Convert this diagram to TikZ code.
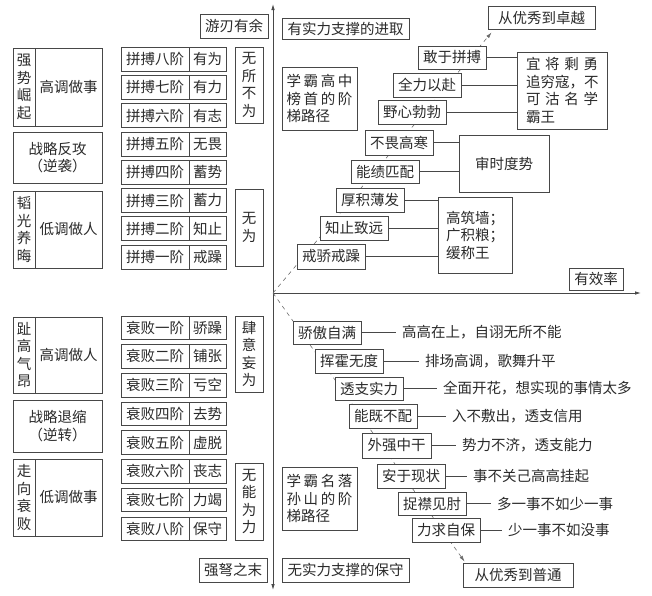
\documentclass[tikz,border=0pt]{standalone}
\usepackage{fontspec}
\setmainfont{Noto Sans CJK SC}
\usetikzlibrary{arrows.meta,calc}
\definecolor{ln}{HTML}{474747}
\definecolor{tx}{HTML}{2A2A2A}
\newcommand\Bx[6]{\node[bx, minimum width={#4-#2}, minimum height={#5-#3}] (#1) at ({(#2+#4)/2},{(#3+#5)/2}) {#6};}
\newcommand\Jst[2]{\makebox[#1][s]{#2}}
\begin{document}
\begin{tikzpicture}[x=1pt,y=-1pt,
  every node/.style={font=\fontsize{14.5}{17.5}\selectfont, text=tx},
  bx/.style={draw=ln, fill=white, line width=0.8pt, inner sep=0pt, align=center},
  txt/.style={anchor=west, inner xsep=6pt, inner ysep=0pt},
  conn/.style={draw=ln, line width=0.7pt},
  dsh/.style={draw=ln!80, line width=0.6pt, dash pattern=on 4pt off 4pt},
  axis/.style={draw=ln, line width=0.8pt},
  tip/.style={-{Latex[length=6pt,width=3.5pt]}}
]
\useasboundingbox (0,0) rectangle (652,595);

% axes
\coordinate (O) at (273,293);
\coordinate (Yt) at (273,4);
\coordinate (Yb) at (273,590);
\coordinate (Xr) at (641,293);
\draw[axis,tip] (O) -- (Yt);
\draw[axis,tip] (O) -- (Yb);
\draw[axis,tip] (O) -- (Xr);

% target boxes (needed for dashed connectors)
\Bx{zy}{488}{6}{595}{29}{从优秀到卓越}
\Bx{zp}{463}{563}{573}{587}{从优秀到普通}
\draw[dsh,tip] (O) -- ($(zy.south west)+(4,3)$);
\draw[dsh,tip] (O) -- ($(zp.north west)+(2,-1)$);

% ---------- left column, upper ----------
\Bx{yr}{200}{14}{268}{38}{游刃有余}
\Bx{qsA}{13}{48}{35}{126}{强\\势\\崛\\起}
\Bx{qsB}{35}{48}{102}{126}{高调做事}
\Bx{zlfg}{13}{132}{102}{183}{战略反攻\\（逆袭）}
\Bx{tgA}{13}{191}{35}{268}{韬\\光\\养\\晦}
\Bx{tgB}{35}{191}{102}{268}{低调做人}
\Bx{wsbw}{235}{47}{263}{123}{无\\所\\不\\为}
\Bx{ww}{235}{189}{263}{266}{无\\为}

\foreach \i/\a/\b in {0/八/有为,1/七/有力,2/六/有志,3/五/无畏,4/四/蓄势,5/三/蓄力,6/二/知止,7/一/戒躁}{
  \pgfmathsetmacro\ya{47+28.3*\i}
  \pgfmathsetmacro\yb{\ya+24}
  \Bx{pa\i}{121}{\ya}{189}{\yb}{拼搏\a 阶}
  \Bx{pb\i}{189}{\ya}{226}{\yb}{\b}
}

% ---------- left column, lower ----------
\Bx{zgA}{13}{317}{35}{393}{趾\\高\\气\\昂}
\Bx{zgB}{35}{317}{102}{393}{高调做人}
\Bx{zlts}{13}{400}{102}{452}{战略退缩\\（逆转）}
\Bx{zxA}{13}{459}{35}{536}{走\\向\\衰\\败}
\Bx{zxB}{35}{459}{102}{536}{低调做事}
\Bx{syww}{235}{316}{263}{392}{肆\\意\\妄\\为}
\Bx{wnwl}{235}{463}{263}{540}{无\\能\\为\\力}
\Bx{qnzm}{199}{558}{267}{582}{强弩之末}

\foreach \i/\a/\b in {0/一/骄躁,1/二/铺张,2/三/亏空,3/四/去势,4/五/虚脱,5/六/丧志,6/七/力竭,7/八/保守}{
  \pgfmathsetmacro\ya{316+28.7*\i}
  \pgfmathsetmacro\yb{\ya+23.5}
  \Bx{sa\i}{121}{\ya}{189}{\yb}{衰败\a 阶}
  \Bx{sb\i}{189}{\ya}{226}{\yb}{\b}
}

% ---------- right, upper ----------
\Bx{ysl}{282}{18}{409}{39}{有实力支撑的进取}
\Bx{xbgz}{282}{67}{357}{130}{\Jst{66pt}{学\hfill 霸\hfill 高\hfill 中}\\\Jst{66pt}{榜\hfill 首\hfill 的\hfill 阶}\\\makebox[66pt][l]{梯路径}}
\Bx{yj}{517}{52}{607}{129}{\Jst{72pt}{宜\hfill 将\hfill 剩\hfill 勇}\\\makebox[72pt][l]{追穷寇，不}\\\Jst{72pt}{可\hfill 沽\hfill 名\hfill 学}\\\makebox[72pt][l]{霸王}}
\Bx{ssds}{459}{135}{549}{192}{审时度势}
\Bx{gzq}{438}{197}{512}{273}{\parbox{58pt}{\raggedright 高筑墙；\\广积粮；\\缓称王}}
\Bx{yxl}{569}{268}{623}{290}{有效率}

\Bx{u8}{418}{46}{486}{69}{敢于拼搏}
\Bx{u7}{393}{73}{461}{97}{全力以赴}
\Bx{u6}{378}{100}{446}{124}{野心勃勃}
\Bx{u5}{365}{130}{433}{155}{不畏高寒}
\Bx{u4}{351}{160}{419}{183}{能绩匹配}
\Bx{u3}{336}{188}{404}{212}{厚积薄发}
\Bx{u2}{320}{216}{388}{240}{知止致远}
\Bx{u1}{297}{244}{365}{269}{戒骄戒躁}

\foreach \n/\t in {u8/yj,u7/yj,u6/yj,u5/ssds,u4/ssds,u3/gzq,u2/gzq,u1/gzq}{
  \draw[conn] (\n.east) -- (\n.east -| \t.west);
}

% ---------- right, lower ----------
\Bx{wsl}{282}{558}{409}{582}{无实力支撑的保守}
\Bx{xbml}{282}{467}{357}{530}{\Jst{66pt}{学\hfill 霸\hfill 名\hfill 落}\\\Jst{66pt}{孙\hfill 山\hfill 的\hfill 阶}\\\makebox[66pt][l]{梯路径}}

\Bx{d1}{293}{321}{361}{344}{骄傲自满}
\Bx{d2}{315}{349}{383}{373}{挥霍无度}
\Bx{d3}{335}{377}{403}{400}{透支实力}
\Bx{d4}{349}{404}{417}{428}{能既不配}
\Bx{d5}{362}{433}{431}{458}{外强中干}
\Bx{d6}{377}{464}{445}{488}{安于现状}
\Bx{d7}{398}{492}{466}{515}{捉襟见肘}
\Bx{d8}{412}{518}{480}{542}{力求自保}

\node[txt] (e1) at (396,332.5) {高高在上，自诩无所不能};
\node[txt] (e2) at (419,361) {排场高调，歌舞升平};
\node[txt] (e3) at (437,388.5) {全面开花，想实现的事情太多};
\node[txt] (e4) at (446,416) {入不敷出，透支信用};
\node[txt] (e5) at (456,445.5) {势力不济，透支能力};
\node[txt] (e6) at (467,476) {事不关己高高挂起};
\node[txt] (e7) at (491,503.5) {多一事不如少一事};
\node[txt] (e8) at (502,530) {少一事不如没事};
\foreach \i in {1,...,8}{ \draw[conn] (d\i.east) -- (e\i.west); }
\end{tikzpicture}
\end{document}
